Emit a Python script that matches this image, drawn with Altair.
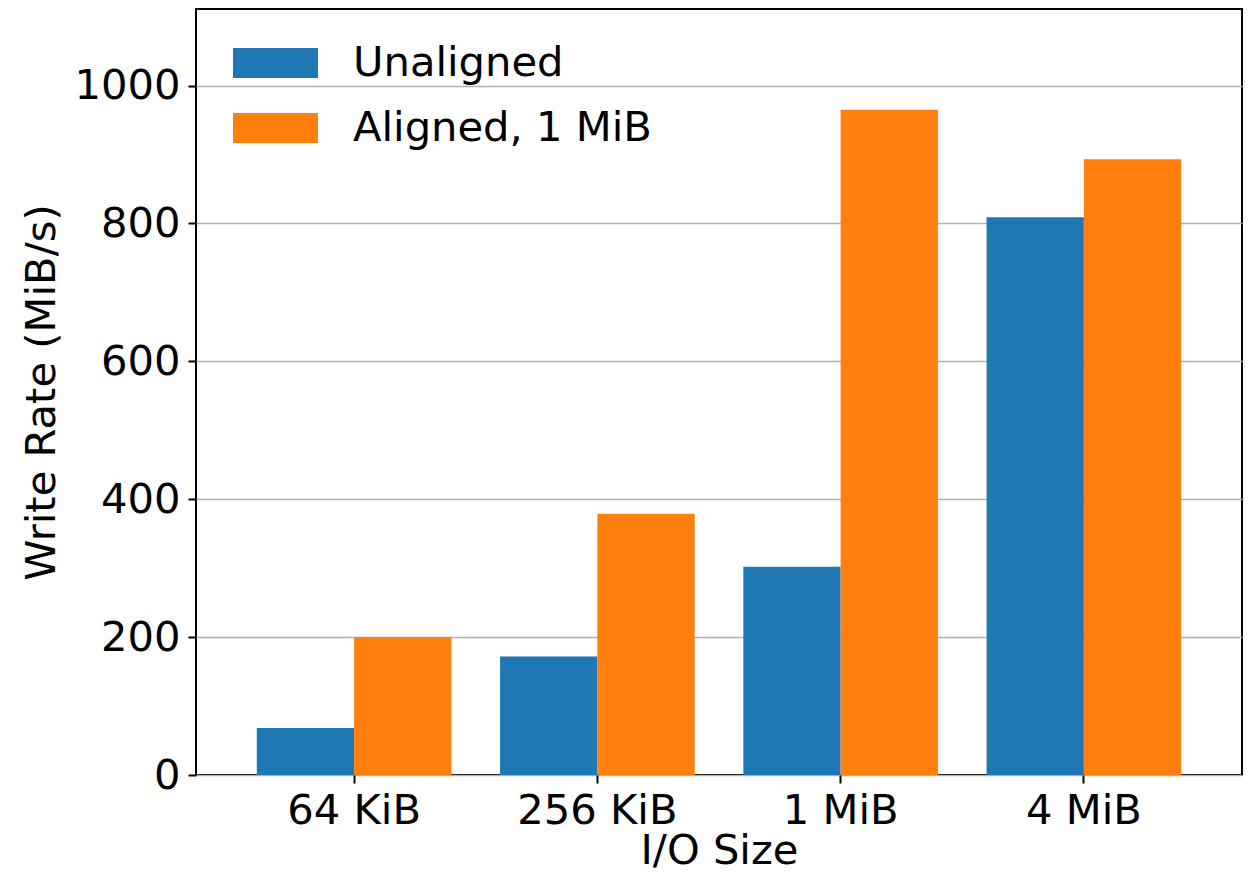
import altair as alt
import pandas as pd

sizes = ["64 KiB", "256 KiB", "1 MiB", "4 MiB"]
series = ["Unaligned", "Aligned, 1 MiB"]
unaligned = [68, 172, 302, 809]
aligned = [200, 379, 965, 893]
colors = ["#1f77b4", "#ff7f0e"]

rows = []
for i, s in enumerate(sizes):
    rows.append({"size": s, "series": series[0], "rate": unaligned[i]})
    rows.append({"size": s, "series": series[1], "rate": aligned[i]})
df = pd.DataFrame(rows)

FONT = "DejaVu Sans"
FS = 41.67

chart = alt.Chart(df).mark_bar().encode(
    x=alt.X("size:N", sort=sizes, title="I/O Size",
            scale=alt.Scale(paddingInner=0.2, paddingOuter=0.25),
            axis=alt.Axis(labelAngle=0, grid=False, tickSize=8, tickWidth=2,
                          tickColor="black", domain=False, labelPadding=7,
                          titlePadding=-1)),
    xOffset=alt.XOffset("series:N", sort=series, scale=alt.Scale(paddingInner=0, paddingOuter=0)),
    y=alt.Y("rate:Q", title="Write Rate (MiB/s)",
            scale=alt.Scale(domain=[0, 1111], nice=False),
            axis=alt.Axis(values=[0, 200, 400, 600, 800, 1000], format="d", grid=True,
                          gridColor="#b0b0b0", gridWidth=1.5, tickSize=8,
                          tickWidth=2, tickColor="black", domain=False,
                          labelPadding=8, titlePadding=10)),
    color=alt.Color("series:N", sort=series,
                    scale=alt.Scale(domain=series, range=colors),
                    legend=alt.Legend(title=None, orient="none", legendX=37,
                                      legendY=11.5, symbolType="M-1,-0.353H1V0.353H-1Z",
                                      symbolSize=7225, symbolStrokeWidth=0,
                                      labelOffset=35, rowPadding=-9, padding=0,
                                      labelFont=FONT, labelFontSize=FS,
                                      labelColor="black")),
).properties(
    width=1046, height=766,
    padding={"left": 188, "top": 1, "right": 1, "bottom": 93},
    autosize=alt.AutoSizeParams(type="none"),
).configure_view(
    stroke="black", strokeWidth=2
).configure_axis(
    labelFont=FONT, labelFontSize=FS, labelColor="black",
    titleFont=FONT, titleFontSize=FS, titleColor="black", titleFontWeight="normal",
).configure_legend(
    labelLimit=0
)

chart.save("out.html", embed_options={"renderer": "svg", "actions": False})
